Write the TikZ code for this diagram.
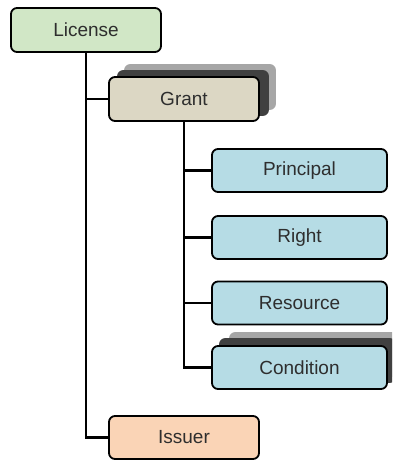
\documentclass[tikz,border=0pt]{standalone}
\usepackage{fontspec}
\setmainfont{Liberation Sans}
\usetikzlibrary{backgrounds}
\definecolor{licensefill}{HTML}{D1E7C6}
\definecolor{grantfill}{HTML}{DCD7C4}
\definecolor{itemfill}{HTML}{B6DCE5}
\definecolor{issuerfill}{HTML}{FAD4B6}
\definecolor{shadowdark}{HTML}{404040}
\definecolor{shadowlight}{HTML}{A6A6A6}
\definecolor{textgray}{HTML}{2E2E2E}
\tikzset{
  box/.style={draw=black, line width=1.8pt, rounded corners=6pt,
    text=textgray, font=\fontsize{19}{22}\selectfont,
    minimum width=150pt, minimum height=44pt, inner sep=0pt},
  itembox/.style={box, fill=itemfill, minimum width=175pt, minimum height=43pt},
  link/.style={line width=2.9pt, black},
  shadowbox/.style={rounded corners=6pt},
}
\begin{document}
\begin{tikzpicture}[x=1pt,y=-1pt]
\useasboundingbox (0,0) rectangle (392,460);
\begin{scope}
\clip (0,0) rectangle (392,460);
% top-level element
\node[box, fill=licensefill] (license) at (86,30) {License};
\node[box, fill=grantfill, draw=none] (grantbase) at (184,99) {};
% stacked-card backdrop of the Grant element
\fill[shadowbox, shadowlight] ([shift={(16,-12)}]grantbase.south west) rectangle ([shift={(16,-12)}]grantbase.north east);
\fill[shadowbox, shadowdark] ([shift={(9,-6)}]grantbase.south west) rectangle ([shift={(9,-6)}]grantbase.north east);
\node[box, fill=grantfill] (grant) at (184,99) {Grant};
% children of Grant
\node[itembox] (principal) at (299.5,170.5) {Principal};
\node[itembox] (right) at (299.5,237.5) {Right};
\node[itembox] (resource) at (299.5,303) {Resource};
\node[itembox, draw=none, fill=none] (condbase) at (299.5,367.5) {};
\fill[shadowbox, shadowlight] ([shift={(18,-13)}]condbase.south west) rectangle ([shift={(18,-13)}]condbase.north east);
\fill[shadowbox, shadowdark] ([shift={(8,-7)}]condbase.south west) rectangle ([shift={(8,-7)}]condbase.north east);
\node[itembox] (condition) at (299.5,367.5) {Condition};
\node[box, fill=issuerfill, minimum height=43pt] (issuer) at (184,437.5) {Issuer};
\end{scope}
% tree connectors, kept beneath the boxes
\begin{scope}[on background layer]
\draw[link] (license.south) |- (issuer.west);
\draw[link] (license.south |- grant.west) -- (grant.west);
\draw[link] (grant.south) |- (condition.west);
\draw[link] (grant.south |- principal.west) -- (principal.west);
\draw[link] (grant.south |- right.west) -- (right.west);
\draw[link] (grant.south |- resource.west) -- (resource.west);
\end{scope}
\end{tikzpicture}
\end{document}
